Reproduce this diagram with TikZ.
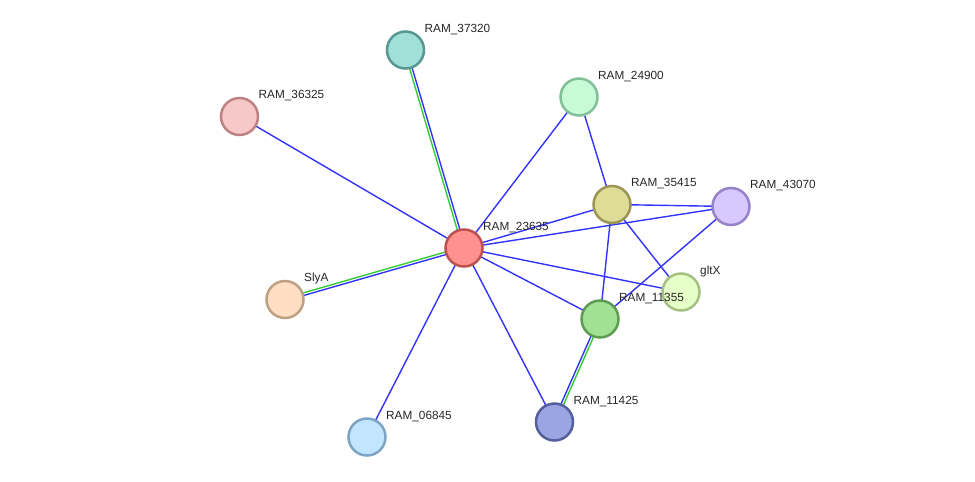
\documentclass[tikz,border=0pt]{standalone}
\usepackage{fontspec}
\setmainfont{Liberation Sans}
\usetikzlibrary{calc,backgrounds}
\definecolor{eblue}{RGB}{51,51,255}
\definecolor{egreen}{RGB}{51,204,51}
\tikzset{
  prot/.style={circle, minimum size=37pt, inner sep=0pt, line width=2.5pt},
  plabel/.style={anchor=base west, inner sep=0pt, font=\fontsize{11.8}{13}\selectfont, text=black!85},
  eb/.style={draw=eblue, line width=1.4pt},
  eg/.style={draw=egreen, line width=1.4pt},
}
\newcommand{\protnode}[6]{%
  \definecolor{f#1}{RGB}{#4}\definecolor{b#1}{RGB}{#5}%
  \node[prot, fill=f#1, draw=b#1] (#1) at (#2,#3) {};
  \node[plabel] (l#1) at (#2+19,#3-18) {#6};
}
\newcommand{\dbl}[3]{% a, b, green side (+90 or -90)
  \draw[eg] ($(#1.center)!1.3pt!#3:(#2.center)$) -- ($(#2.center)!1.3pt!-#3:(#1.center)$);
  \draw[eb] ($(#1.center)!1.3pt!-#3:(#2.center)$) -- ($(#2.center)!1.3pt!#3:(#1.center)$);
}
\begin{document}
\begin{tikzpicture}[x=1pt,y=-1pt]
\useasboundingbox (0,0) rectangle (975,482);
\protnode{n37320}{405.5}{50}{160,224,216}{88,152,146}{RAM\_37320}
\protnode{n36325}{239.5}{116.5}{247,200,200}{190,130,130}{RAM\_36325}
\protnode{n24900}{579}{97}{200,250,215}{130,192,152}{RAM\_24900}
\protnode{n23635}{464}{248}{255,145,145}{190,80,80}{RAM\_23635}
\protnode{n35415}{612}{204.5}{222,220,150}{155,150,85}{RAM\_35415}
\protnode{n43070}{731}{206.5}{215,200,255}{150,130,200}{RAM\_43070}
\protnode{nSlyA}{285}{299.5}{255,222,195}{190,160,130}{SlyA}
\protnode{ngltX}{681}{292}{230,255,200}{165,192,130}{gltX}
\protnode{n11355}{600}{319}{160,225,150}{95,155,85}{RAM\_11355}
\protnode{n11425}{554.5}{422}{155,165,225}{85,95,155}{RAM\_11425}
\protnode{n06845}{367}{437}{195,230,255}{125,165,195}{RAM\_06845}
\begin{pgfonlayer}{background}
\dbl{n23635}{n37320}{90}
\dbl{n23635}{nSlyA}{-90}
\dbl{n11355}{n11425}{90}
\draw[eb] (n23635.center) -- (n36325.center);
\draw[eb] (n23635.center) -- (n24900.center);
\draw[eb] (n23635.center) -- (n35415.center);
\draw[eb] (n23635.center) -- (n43070.center);
\draw[eb] (n23635.center) -- (ngltX.center);
\draw[eb] (n23635.center) -- (n11355.center);
\draw[eb] (n23635.center) -- (n11425.center);
\draw[eb] (n23635.center) -- (n06845.center);
\draw[eb] (n24900.center) -- (n35415.center);
\draw[eb] (n35415.center) -- (n43070.center);
\draw[eb] (n35415.center) -- (ngltX.center);
\draw[eb] (n35415.center) -- (n11355.center);
\draw[eb] (n43070.center) -- (n11355.center);
\end{pgfonlayer}
\end{tikzpicture}
\end{document}
